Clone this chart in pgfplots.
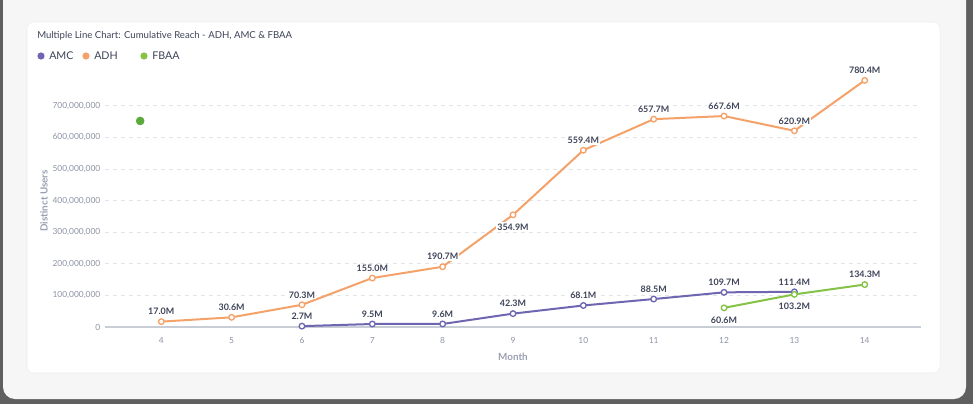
\documentclass[border=0pt]{standalone}
\usepackage{pgfplots}
\pgfplotsset{compat=1.18}
\usepackage{pgfplotstable}
\usepackage{fontspec}
\setmainfont{Lato}
\definecolor{amc}{HTML}{6E66B0}
\definecolor{adh}{HTML}{F4A26A}
\definecolor{fbaa}{HTML}{84C346}
\definecolor{dotc}{HTML}{5CAA3A}
\definecolor{txt}{HTML}{3E4459}
\definecolor{tickc}{HTML}{8E94A6}
\definecolor{axl}{HTML}{9AA0B2}
\definecolor{gridc}{HTML}{E3E5EA}
\definecolor{axline}{HTML}{C9CDD6}
\definecolor{bgdark}{HTML}{5F5F5F}
\definecolor{panel}{HTML}{F6F6F7}

\pgfplotstableread{
x y dy
6 2.7 7.5
7 9.5 7.5
8 9.6 7.5
9 42.3 7.5
10 68.1 7.5
11 88.5 7.5
12 109.7 7.5
13 111.4 7.5
}\amcdata
\pgfplotstableread{
x y dy
4 17.0 7.5
5 30.6 7.5
6 70.3 7.5
7 155.0 7.5
8 190.7 7.5
9 354.9 -9
10 559.4 7.5
11 657.7 7.5
12 667.6 7.5
13 620.9 7.5
14 780.4 7.5
}\adhdata
\pgfplotstableread{
x y dy
12 60.6 -9
13 103.2 -9
14 134.3 7.5
}\fbaadata

\begin{document}
\begin{tikzpicture}[x=0.75pt,y=0.75pt]
\useasboundingbox (0,0) rectangle (973,404);
\fill[bgdark] (0,0) rectangle (973,404);
\begin{scope}
\clip (0,0) rectangle (973,404);
\fill[panel,rounded corners=9] (3,5) rectangle (966,416);
\end{scope}
\filldraw[fill=white,draw=black!7,rounded corners=5] (27,31) rectangle (940,382);
\node[anchor=west,inner sep=0,font=\fontsize{7.2}{9}\selectfont,text=txt] at (37,368) {Multiple Line Chart: Cumulative Reach - ADH, AMC \& FBAA};
\fill[amc] (41,348) circle (3.6);
\node[anchor=west,inner sep=0,font=\fontsize{8}{9}\selectfont,text=txt] at (49,348) {AMC};
\fill[adh] (86,348) circle (3.6);
\node[anchor=west,inner sep=0,font=\fontsize{8}{9}\selectfont,text=txt] at (94,348) {ADH};
\fill[fbaa] (144,348) circle (3.6);
\node[anchor=west,inner sep=0,font=\fontsize{8}{9}\selectfont,text=txt] at (152,348) {FBAA};
\node[rotate=90,inner sep=0,font=\bfseries\fontsize{7.4}{9}\selectfont,text=axl] at (44,203) {Distinct Users};
\node[inner sep=0,font=\bfseries\fontsize{7.4}{9}\selectfont,text=axl] at (513,47) {Month};
\begin{axis}[
  at={(78.75pt,57.75pt)}, anchor=south west,
  scale only axis, width=612pt, height=189.6pt,
  xmin=3.2, xmax=14.8, ymin=0, ymax=800,
  clip=false,
  separate axis lines,
  axis x line*=bottom, axis y line*=left,
  x axis line style={-, draw=axline, line width=0.8pt},
  y axis line style={draw=none},
  xtick={4,...,14}, xtick style={draw=none},
  ytick={0,100,...,700}, ytick style={draw=none},
  yticklabels={0,{100,000,000},{200,000,000},{300,000,000},{400,000,000},{500,000,000},{600,000,000},{700,000,000}},
  extra x ticks={3.2,14.8}, extra x tick labels={},
  extra x tick style={grid=none, major tick length=4pt, tick align=outside, tick style={draw=axline, line width=0.6pt}},
  ymajorgrids, grid style={draw=gridc, line width=0.6pt, dash pattern=on 3pt off 3pt},
  tick label style={font=\fontsize{6.3}{7}\selectfont, text=tickc},
  xticklabel style={yshift=-4pt},
  /pgf/number format/assume math mode=true,
  every axis plot/.append style={line width=1.5pt},
  nodes near coords={\pgfmathprintnumber[fixed,fixed zerofill,precision=1]{\pgfplotspointmeta}M},
  visualization depends on={\thisrow{dy} \as \dy},
  every node near coord/.append style={anchor=center, yshift=\dy pt, fill=white, inner sep=0.8pt, text=txt, font=\bfseries\fontsize{6.7}{7}\selectfont},
]
\addplot[amc, mark=*, mark size=2.1pt, mark options={fill=white, line width=1pt}] table[x=x,y=y] {\amcdata};
\addplot[adh, mark=*, mark size=2.1pt, mark options={fill=white, line width=1pt}] table[x=x,y=y] {\adhdata};
\addplot[fbaa, mark=*, mark size=2.1pt, mark options={fill=white, line width=1pt}] table[x=x,y=y] {\fbaadata};
\end{axis}
\begin{axis}[
  at={(78.75pt,57.75pt)}, anchor=south west,
  scale only axis, width=612pt, height=189.6pt,
  xmin=3.2, xmax=14.8, ymin=0, ymax=800,
  hide axis, clip=false]
\addplot[only marks, mark=*, mark size=3pt, color=dotc, mark options={fill=dotc, draw=dotc}] coordinates {(3.7,652)};
\end{axis}
\end{tikzpicture}
\end{document}
